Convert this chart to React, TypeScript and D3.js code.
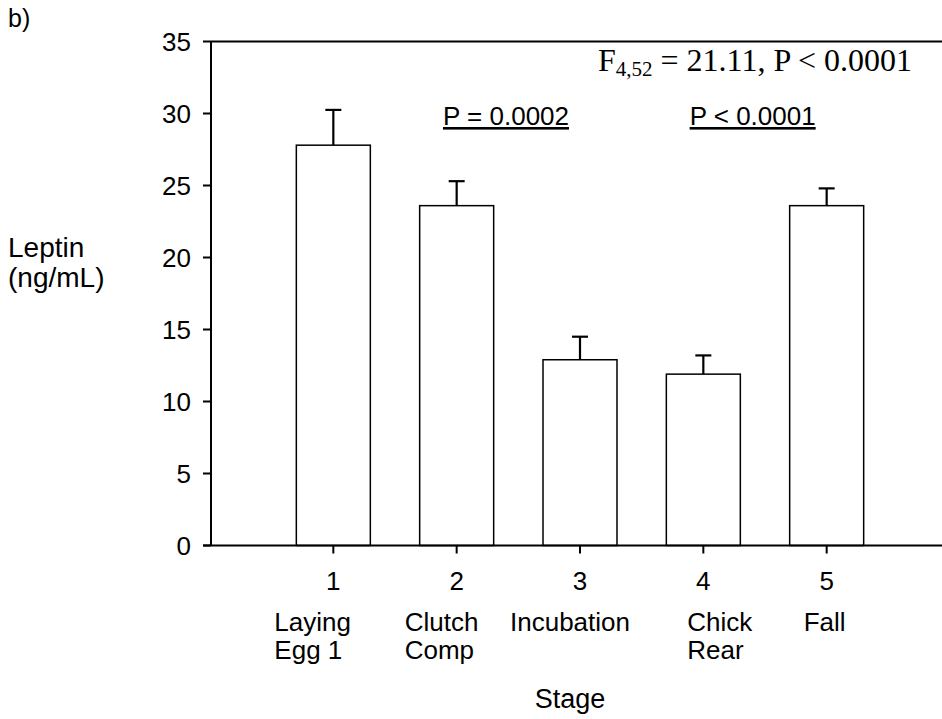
import React from "react";
import * as d3 from "d3";

const W = 942;
const H = 719;

// data
const stages = [1, 2, 3, 4, 5];
const stageNames = [["Laying", "Egg 1"], ["Clutch", "Comp"], ["Incubation"], ["Chick", "Rear"], ["Fall"]];
const means = [27.8, 23.6, 12.9, 11.9, 23.6];
const errors = [2.45, 1.7, 1.6, 1.3, 1.2];
const yTicks = [0, 5, 10, 15, 20, 25, 30, 35];

// left edge of each stage name relative to its tick (layout only)
const nameOffsets = [-59, -52, -70, -16, -23];

const FONT = "Arial, 'Liberation Sans', Helvetica, sans-serif";
const SERIF = "'Times New Roman', 'Liberation Serif', serif";

export default function App() {
  const x = d3.scaleLinear().domain([0, 6]).range([210, 950]);
  const y = d3.scaleLinear().domain([0, 35]).range([545.5, 41.5]);
  const barW = x(0.6) - x(0);
  const x0 = 211;
  const xEnd = W;

  return (
    <svg
      width={W}
      height={H}
      style={{ position: "absolute", left: 0, top: 0, background: "#fff" }}
      fontFamily={FONT}
    >
      <text x={8} y={27} fontSize={25}>b)</text>

      {/* y title */}
      <text x={8} y={257} fontSize={28}>Leptin</text>
      <text x={8} y={287} fontSize={28}>(ng/mL)</text>

      {/* bars */}
      {stages.map((s, i) => (
        <g key={s}>
          <line x1={x(s)} x2={x(s)} y1={y(means[i])} y2={y(means[i] + errors[i])} stroke="#000" strokeWidth={2.2} />
          <line x1={x(s) - 8} x2={x(s) + 8} y1={y(means[i] + errors[i])} y2={y(means[i] + errors[i])} stroke="#000" strokeWidth={2.2} />
          <rect
            x={x(s) - barW / 2}
            y={y(means[i])}
            width={barW}
            height={y(0) - y(means[i])}
            fill="#fff"
            stroke="#000"
            strokeWidth={1.5}
          />
        </g>
      ))}

      {/* frame: top line, y axis, x axis */}
      <line x1={x0} x2={xEnd} y1={y(35)} y2={y(35)} stroke="#000" strokeWidth={2} />
      <line x1={x0} x2={x0} y1={y(35)} y2={y(0)} stroke="#000" strokeWidth={2} />
      <line x1={x0 - 8} x2={xEnd} y1={y(0)} y2={y(0)} stroke="#000" strokeWidth={2} />

      {/* y ticks */}
      {yTicks.map((t) => (
        <g key={t}>
          <line x1={x0 - 8} x2={x0} y1={y(t)} y2={y(t)} stroke="#000" strokeWidth={2} />
          <text x={191} y={y(t)} dy="0.36em" textAnchor="end" fontSize={26}>{t}</text>
        </g>
      ))}

      {/* x ticks and names */}
      {stages.map((s, i) => (
        <g key={s}>
          <line x1={x(s)} x2={x(s)} y1={y(0)} y2={y(0) + 8} stroke="#000" strokeWidth={2} />
          <text x={x(s)} y={590} textAnchor="middle" fontSize={26}>{s}</text>
          {stageNames[i].map((n, j) => (
            <text key={n} x={x(s) + nameOffsets[i]} y={631 + j * 28} fontSize={26}>{n}</text>
          ))}
        </g>
      ))}

      <text x={570} y={708} textAnchor="middle" fontSize={27}>Stage</text>

      {/* annotations */}
      <text x={598} y={71} fontFamily={SERIF} fontSize={32}>
        F<tspan fontSize={21} dy={5}>4,52</tspan>
        <tspan dy={-5}> = 21.11, P &lt; 0.0001</tspan>
      </text>
      <text x={x(2.4)} y={125} textAnchor="middle" fontSize={26} textDecoration="underline">P = 0.0002</text>
      <text x={x(4.4)} y={125} textAnchor="middle" fontSize={26} textDecoration="underline">P &lt; 0.0001</text>
    </svg>
  );
}
